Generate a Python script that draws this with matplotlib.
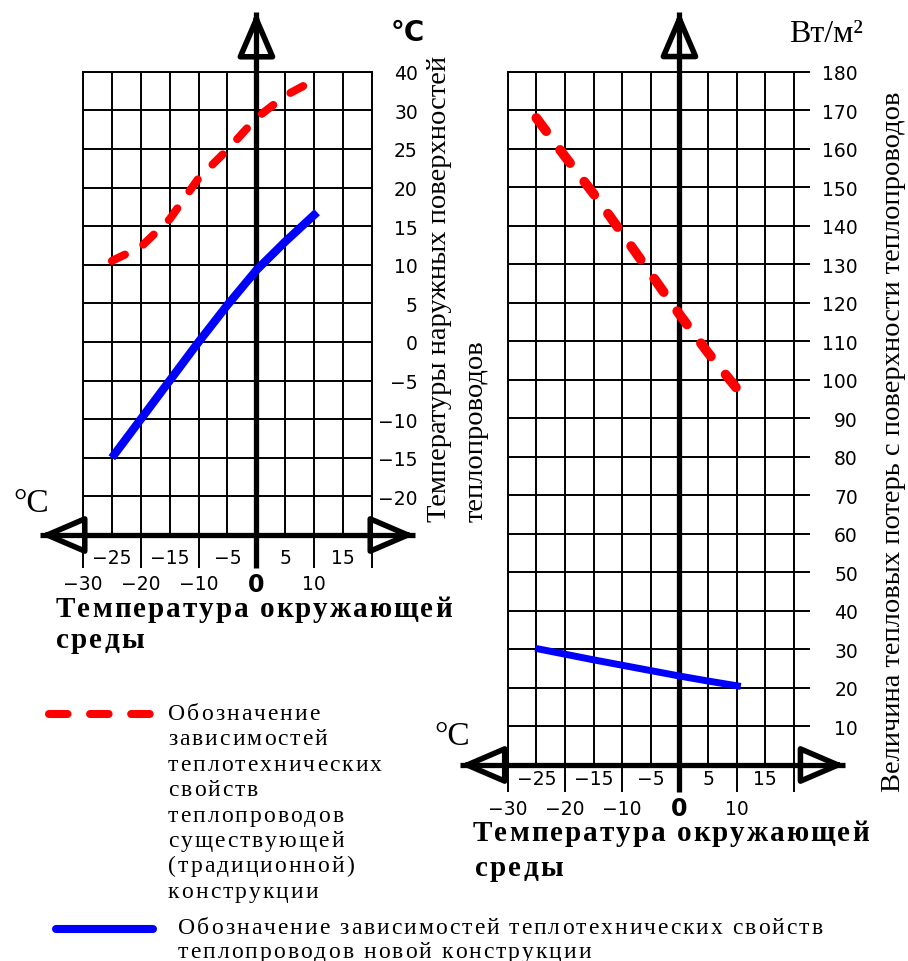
import matplotlib
matplotlib.use('Agg')
import matplotlib.pyplot as plt
from matplotlib.font_manager import FontProperties, findfont, get_font

W, H = 908, 962

# левый график: температура наружной поверхности, °C
env_left = [-25, -20, -15, -10, -5, 0, 5, 10.5]
surf_old = [10.5, 12.3, 15.9, 21.2, 24.9, 29.0, 31.9, 34.1]
surf_new = [-15, -10, -5, 0, 4.8, 9.3, 13.0, 16.8]

# правый график: тепловые потери, Вт/м2
env_right_old = [-25, -20, -15, -10, -5, 0, 5, 10.7]
loss_old = [168, 158, 148.3, 138, 127.5, 117, 107, 96.5]
env_right_new = [-25.2, -15, -5, 0, 5, 10.7]
loss_new = [30.3, 27.3, 24.5, 23.1, 21.8, 20.4]

x_grid = list(range(-30, 21, 5))
x_ext = [-30, -20, -10, 0, 10, 20]
x_top_row = [-25, -15, -5, 5, 15]
x_bottom_row = [-30, -20, -10, 10]

left_yticks = list(range(-25, 36, 5))
left_ylabels = [''] + ['\u2212%d' % -v if v < 0 else str(v) for v in range(-20, 31, 5)] + ['40']
right_yticks = list(range(0, 181, 10))
right_ylabels = [''] + [str(v) for v in range(10, 181, 10)]

leg_old = ['Обозначение', 'зависимостей', 'теплотехнических', 'свойств',
           'теплопроводов', 'существующей', '(традиционной)', 'конструкции']
leg_new = ['Обозначение зависимостей теплотехнических свойств',
           'теплопроводов новой конструкции']

SERIF = 'Liberation Serif'
NUM = 'DejaVu Sans'


def fx(x):
    return x / W


def fy(y):
    return 1 - y / H


def lbl(v):
    return '\u2212%d' % -v if v < 0 else str(v)


def spaced(x, y, s, spacing, size, weight='normal'):
    # текст с разрядкой, y - базовая линия в пикселях
    f = get_font(findfont(FontProperties(family=SERIF, weight=weight)))
    for ch in s:
        fig.text(fx(x), fy(y), ch, family=SERIF, fontsize=size, fontweight=weight,
                 ha='left', va='baseline')
        f.set_size(size, 100)
        x += f.load_char(ord(ch)).linearHoriAdvance / 65536 + spacing


def arrow_head(ax, tip, base):
    ax.annotate('', xy=tip, xytext=base,
                arrowprops=dict(arrowstyle='-|>,head_length=1.35,head_width=0.58',
                                mutation_scale=20, lw=4, fc='none', ec='black',
                                shrinkA=0, shrinkB=0),
                annotation_clip=False)


def setup(ax, yticks, ylabels, ymin, ymax, pad, y_bot_ext, x_left_tip, x_right_tip,
          y_top_tip, row1, row2, right_ext=None):
    ax.set_xlim(-30, 20)
    ax.set_ylim(ymin, ymax)
    ax.set_xticks(x_grid)
    ax.set_yticks(yticks)
    ax.set_yticklabels(ylabels, family=NUM, fontsize=13.5, ha='right')
    ax.yaxis.tick_right()
    ax.tick_params(axis='y', length=0, pad=pad)
    ax.tick_params(axis='x', length=0, labelbottom=False)
    ax.grid(True, color='black', lw=1.4)
    for s in ['left', 'right', 'top']:
        ax.spines[s].set_linewidth(1.4)
    ax.spines['bottom'].set_visible(False)

    # продолжение вертикальных линий ниже оси
    ax.vlines(x_ext, y_bot_ext, ymin, color='black', lw=1.4, clip_on=False)
    if right_ext is not None:
        ax.hlines(yticks[1:], 20, right_ext, color='black', lw=1.4, clip_on=False)

    # оси со стрелками
    ax.plot([x_left_tip, x_right_tip], [ymin, ymin], color='black', lw=3.8,
            clip_on=False, zorder=4, solid_capstyle='butt')
    ax.plot([0, 0], [y_bot_ext, y_top_tip], color='black', lw=3.8,
            clip_on=False, zorder=4, solid_capstyle='butt')
    arrow_head(ax, (x_left_tip, ymin), (x_left_tip + 2, ymin))
    arrow_head(ax, (x_right_tip, ymin), (x_right_tip - 2, ymin))
    dy = (ymax - ymin) * 0.02
    arrow_head(ax, (0, y_top_tip), (0, y_top_tip - dy))

    for v in x_top_row:
        ax.annotate(lbl(v), xy=(v, ymin), xytext=(0, -row1), textcoords='offset points',
                    ha='center', va='center', family=NUM, fontsize=13.5,
                    annotation_clip=False)
    for v in x_bottom_row:
        ax.annotate(lbl(v), xy=(v, ymin), xytext=(0, -row2), textcoords='offset points',
                    ha='center', va='center', family=NUM, fontsize=13.5,
                    annotation_clip=False)
    ax.annotate('0', xy=(0, ymin), xytext=(0, -row2), textcoords='offset points',
                ha='center', va='center', family=NUM, fontsize=17, fontweight='bold',
                annotation_clip=False)


fig = plt.figure(figsize=(W / 100, H / 100), dpi=100)

# левая панель
axl = fig.add_axes([fx(83), fy(536), (372 - 83) / W, (536 - 72.7) / H])
setup(axl, left_yticks, left_ylabels, -25, 35, 33, -29.3, -37.4, 27.4, 42.7,
      16, 35)
axl.plot(env_left, surf_old, color='#ff0000', lw=5.8, dashes=(1.8, 2.6),
         dash_capstyle='round', zorder=5)
axl.plot(env_left, surf_new, color='#0000ff', lw=6, solid_capstyle='butt', zorder=5)

# правая панель
axr = fig.add_axes([fx(507.7), fy(766), (794 - 507.7) / W, (766 - 72.7) / H])
setup(axr, right_yticks, right_ylabels, 0, 180, 46, -7.0, -38.3, 28.9, 195.5,
      10, 31, right_ext=22.8)
axr.plot(env_right_old, loss_old, color='#ff0000', lw=7, dashes=(1.7, 2.4),
         dash_capstyle='round', zorder=5)
axr.plot(env_right_new, loss_new, color='#0000ff', lw=5, solid_capstyle='butt', zorder=5)

# подписи единиц
fig.text(fx(408), fy(33), '°C', family='DejaVu Sans', fontweight='bold', fontsize=20,
         ha='center', va='center')
fig.text(fx(31), fy(504), '°C', family=SERIF, fontsize=24, ha='center', va='center')
fig.text(fx(452), fy(737), '°C', family=SERIF, fontsize=24, ha='center', va='center')
fig.text(fx(826), fy(35), 'Вт/м²', family=SERIF, fontsize=23, ha='center', va='center')

# подписи осей
fig.text(fx(440), fy(522), 'Температуры наружных поверхностей', family=SERIF,
         fontsize=20.5, rotation=90, ha='center', va='bottom')
fig.text(fx(476), fy(522), 'теплопроводов', family=SERIF,
         fontsize=20.5, rotation=90, ha='center', va='bottom')
fig.text(fx(893), fy(792), 'Величина тепловых потерь с поверхности теплопроводов',
         family=SERIF, fontsize=20.5, rotation=90, ha='center', va='bottom')

spaced(56, 617, 'Температура окружающей', 2, 21, 'bold')
spaced(56, 648, 'среды', 2, 21, 'bold')
spaced(473, 841, 'Температура окружающей', 2, 21, 'bold')
spaced(475, 876, 'среды', 2, 21, 'bold')

# легенда
fig.add_artist(plt.Line2D([fx(49), fx(153)], [fy(715), fy(715)], color='#ff0000',
                          lw=5.8, dashes=(2.3, 2.8), dash_capstyle='round'))
for i, s in enumerate(leg_old):
    spaced(168, 720 + i * 25.4, s, 2, 17)
fig.add_artist(plt.Line2D([fx(56), fx(153)], [fy(930), fy(930)], color='#0000ff',
                          lw=5.8, solid_capstyle='round'))
for i, s in enumerate(leg_new):
    spaced(178, 934 + i * 24, s, 2, 17)

fig.savefig('out.png', dpi=100)
